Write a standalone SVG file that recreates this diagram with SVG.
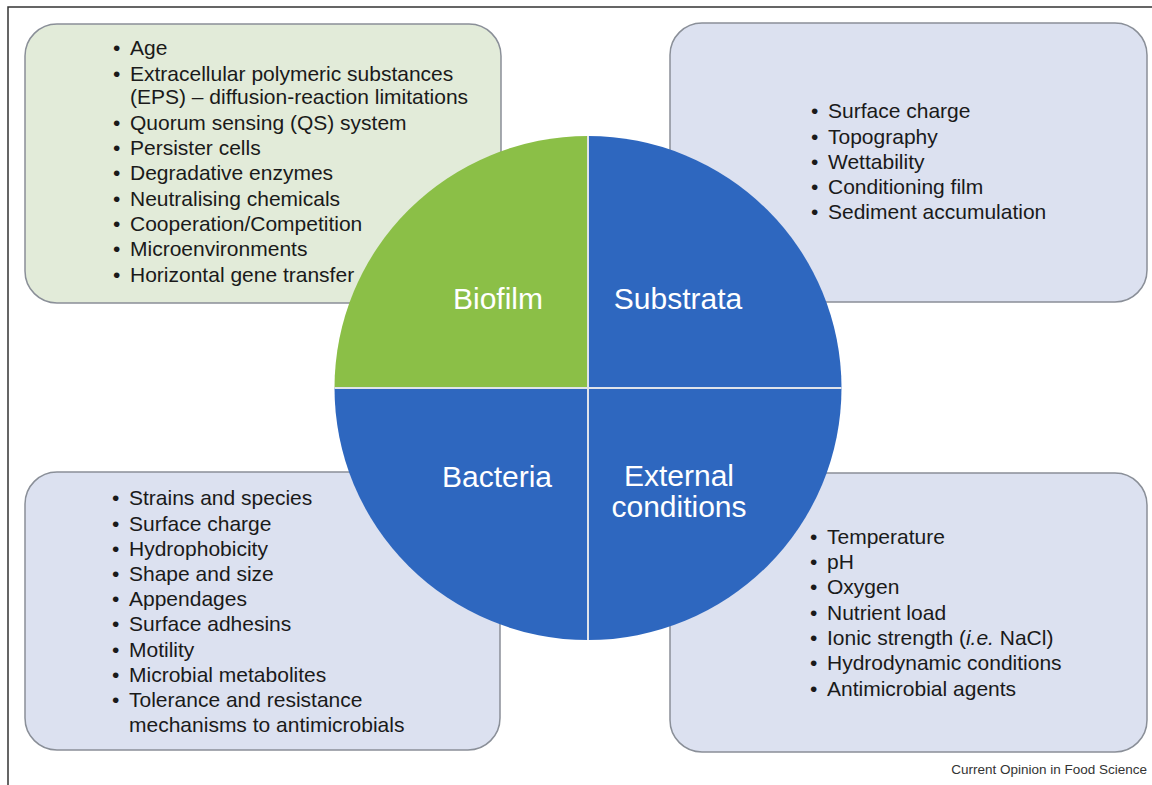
<svg xmlns="http://www.w3.org/2000/svg" width="1152" height="785" viewBox="0 0 1152 785">
  <style>
    .frame { fill: none; stroke: #333333; stroke-width: 1.5; }
    .box { stroke: #8a8f98; stroke-width: 1.5; }
    .green-box { fill: #e2ebd9; }
    .blue-box { fill: #dce1f0; }
    .item { font-family: "Liberation Sans", Arial, sans-serif; font-size: 21px; fill: #1a1a1a; }
    .label { font-family: "Liberation Sans", Arial, sans-serif; font-size: 30px; fill: #ffffff; text-anchor: middle; }
    .quad-green { fill: #8bbf47; }
    .quad-blue { fill: #2e67bf; }
    .divider { stroke: #dfe3ea; stroke-width: 2; }
    .credit { font-family: "Liberation Sans", Arial, sans-serif; font-size: 13.5px; fill: #333333; text-anchor: end; }
  </style>

  <rect width="1152" height="785" fill="#ffffff"/>
  <!-- outer frame: top and left rules only -->
  <path class="frame" d="M8,785 V7 H1152"/>

  <!-- Biofilm factors -->
  <g id="biofilm-box">
    <rect class="box green-box" x="25" y="24" width="476" height="279" rx="32"/>
    <g class="item">
      <text x="113" y="55">•</text><text x="130" y="55">Age</text>
      <text x="113" y="81">•</text><text x="130" y="81">Extracellular polymeric substances</text>
      <text x="130" y="104">(EPS) – diffusion-reaction limitations</text>
      <text x="113" y="130">•</text><text x="130" y="130">Quorum sensing (QS) system</text>
      <text x="113" y="155">•</text><text x="130" y="155">Persister cells</text>
      <text x="113" y="180">•</text><text x="130" y="180">Degradative enzymes</text>
      <text x="113" y="206">•</text><text x="130" y="206">Neutralising chemicals</text>
      <text x="113" y="231">•</text><text x="130" y="231">Cooperation/Competition</text>
      <text x="113" y="256">•</text><text x="130" y="256">Microenvironments</text>
      <text x="113" y="282">•</text><text x="130" y="282">Horizontal gene transfer</text>
    </g>
  </g>

  <!-- Substrata factors -->
  <g id="substrata-box">
    <rect class="box blue-box" x="670" y="23" width="477" height="279" rx="32"/>
    <g class="item">
      <text x="811" y="118">•</text><text x="828" y="118">Surface charge</text>
      <text x="811" y="144">•</text><text x="828" y="144">Topography</text>
      <text x="811" y="169">•</text><text x="828" y="169">Wettability</text>
      <text x="811" y="194">•</text><text x="828" y="194">Conditioning film</text>
      <text x="811" y="219">•</text><text x="828" y="219">Sediment accumulation</text>
    </g>
  </g>

  <!-- Bacteria factors -->
  <g id="bacteria-box">
    <rect class="box blue-box" x="25" y="472" width="475" height="278" rx="32"/>
    <g class="item">
      <text x="112" y="505">•</text><text x="129" y="505">Strains and species</text>
      <text x="112" y="531">•</text><text x="129" y="531">Surface charge</text>
      <text x="112" y="556">•</text><text x="129" y="556">Hydrophobicity</text>
      <text x="112" y="581">•</text><text x="129" y="581">Shape and size</text>
      <text x="112" y="606">•</text><text x="129" y="606">Appendages</text>
      <text x="112" y="631">•</text><text x="129" y="631">Surface adhesins</text>
      <text x="112" y="657">•</text><text x="129" y="657">Motility</text>
      <text x="112" y="682">•</text><text x="129" y="682">Microbial metabolites</text>
      <text x="112" y="707">•</text><text x="129" y="707">Tolerance and resistance</text>
      <text x="129" y="732">mechanisms to antimicrobials</text>
    </g>
  </g>

  <!-- External conditions factors -->
  <g id="external-box">
    <rect class="box blue-box" x="670" y="473" width="477" height="279" rx="32"/>
    <g class="item">
      <text x="810" y="544">•</text><text x="827" y="544">Temperature</text>
      <text x="810" y="569">•</text><text x="827" y="569">pH</text>
      <text x="810" y="594">•</text><text x="827" y="594">Oxygen</text>
      <text x="810" y="620">•</text><text x="827" y="620">Nutrient load</text>
      <text x="810" y="645">•</text><text x="827" y="645">Ionic strength (<tspan font-style="italic">i.e.</tspan> NaCl)</text>
      <text x="810" y="670">•</text><text x="827" y="670">Hydrodynamic conditions</text>
      <text x="810" y="696">•</text><text x="827" y="696">Antimicrobial agents</text>
    </g>
  </g>

  <!-- central circle, split into four quadrants -->
  <g id="quad-biofilm">
    <path class="quad-green" d="M588,388 H334.5 A253.5,252 0 0 1 588,136 Z"/>
    <text class="label" x="498" y="309">Biofilm</text>
  </g>
  <g id="quad-substrata">
    <path class="quad-blue" d="M588,388 V136 A253.5,252 0 0 1 841.5,388 Z"/>
    <text class="label" x="678" y="309">Substrata</text>
  </g>
  <g id="quad-bacteria">
    <path class="quad-blue" d="M588,388 V640 A253.5,252 0 0 1 334.5,388 Z"/>
    <text class="label" x="497" y="487">Bacteria</text>
  </g>
  <g id="quad-external">
    <path class="quad-blue" d="M588,388 H841.5 A253.5,252 0 0 1 588,640 Z"/>
    <text class="label" x="679" y="486">External</text>
    <text class="label" x="679" y="517">conditions</text>
  </g>

  <g id="dividers">
    <line class="divider" x1="588" y1="136" x2="588" y2="640"/>
    <line class="divider" x1="334.5" y1="388" x2="841.5" y2="388"/>
  </g>

  <text class="credit" x="1147" y="774">Current Opinion in Food Science</text>
</svg>
